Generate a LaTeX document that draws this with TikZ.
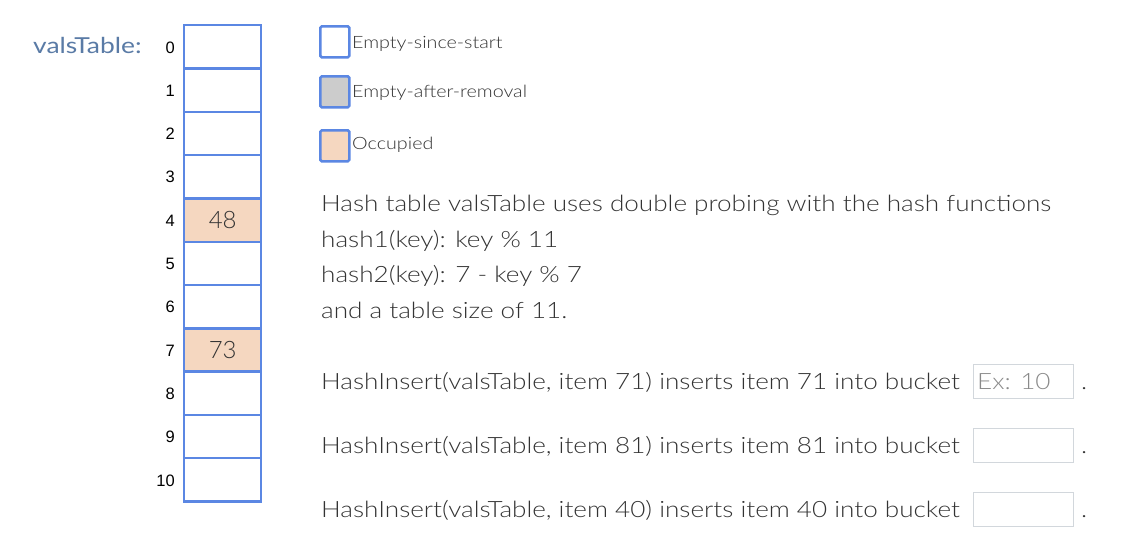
\documentclass[tikz,border=0pt]{standalone}
\usepackage{fontspec}
\setmainfont{Lato}[UprightFont={* Light},FakeStretch=1.16]
\newfontfamily\titlef{Lato}[FakeStretch=1.2]
\newfontfamily\cellf{Lato}[UprightFont={* Light}]
\newfontfamily\arialf{Liberation Sans}
\definecolor{cellblue}{HTML}{5B87E3}
\definecolor{occfill}{HTML}{F5D7C0}
\definecolor{remfill}{HTML}{CCCCCC}
\definecolor{txt}{HTML}{333333}
\definecolor{lbl}{HTML}{5A7BA6}
\definecolor{inbox}{HTML}{D2D7DC}
\definecolor{ph}{HTML}{8A8A8A}
\begin{document}
\begin{tikzpicture}[x=1pt,y=-1pt,
  cellbox/.style={draw=cellblue,line width=2.4pt,minimum width=77pt,minimum height=43.3pt,inner sep=0pt,anchor=north west,font=\cellf\fontsize{24}{28}\selectfont,text=txt},
  occ/.style={fill=occfill},
  idx/.style={anchor=base east,font=\arialf\fontsize{16.5}{20}\selectfont,text=black,inner sep=0pt},
  legbox/.style={draw=cellblue,line width=2.6pt,rounded corners=1.5pt,minimum width=29pt,minimum height=31pt,inner sep=0pt,anchor=north west},
  legtxt/.style={anchor=base west,font=\fontsize{17}{20}\selectfont,text=txt,inner sep=0pt},
  body/.style={anchor=base west,font=\fontsize{22.5}{27}\selectfont,text=txt,inner sep=0pt},
  ansbox/.style={draw=inbox,line width=0.8pt,minimum width=100pt,minimum height=34pt,inner sep=0pt,anchor=north west},
  dotx/.style={anchor=base west,font=\fontsize{22.5}{27}\selectfont,text=txt,inner sep=0pt}
]
\useasboundingbox[fill=white] (0,0) rectangle (1126,544);
\node[anchor=base west,font=\titlef\fontsize{22}{26}\selectfont,text=lbl,inner sep=0pt] (title) at (33,53) {valsTable:};
% cells
\foreach \i in {0,...,10}{
  \pgfmathsetmacro{\yy}{24+43.3*\i}
  \node[cellbox] (c\i) at (183,\yy) {};
  \node[idx] (i\i) at (175,\yy+29) {\i};
}
\node[cellbox,occ] (c4) at (183,24+43.3*4) {48};
\node[cellbox,occ] (c7) at (183,24+43.3*7) {73};
% legend
\node[legbox] (l1) at (319,25) {};
\node[legbox,fill=remfill] (l2) at (319,75) {};
\node[legbox,fill=occfill] (l3) at (319,129) {};
\node[legtxt] (t1) at (352,48) {Empty-since-start};
\node[legtxt] (t2) at (352,97) {Empty-after-removal};
\node[legtxt] (t3) at (352,149) {Occupied};
% body
\node[body] (b1) at (321,211) {Hash table valsTable uses double probing with the hash functions};
\node[body] (b2) at (321,247) {hash1(key): key \% 11};
\node[body] (b3) at (321,282) {hash2(key): 7 - key \% 7};
\node[body] (b4) at (321,318) {and a table size of 11.};
\node[body] (q1) at (321,389) {HashInsert(valsTable, item 71) inserts item 71 into bucket};
\node[body] (q2) at (321,453) {HashInsert(valsTable, item 81) inserts item 81 into bucket};
\node[body] (q3) at (321,517) {HashInsert(valsTable, item 40) inserts item 40 into bucket};
\node[ansbox] (a1) at (973,364) {};
\node[anchor=base west,font=\fontsize{22.5}{27}\selectfont,text=ph,inner sep=0pt] (p1) at (977,389) {Ex: 10};
\node[ansbox] (a2) at (973,428) {};
\node[ansbox] (a3) at (973,492) {};
\node[dotx] (d1) at (1081,389) {.};
\node[dotx] (d2) at (1081,453) {.};
\node[dotx] (d3) at (1081,517) {.};
\end{tikzpicture}
\end{document}
